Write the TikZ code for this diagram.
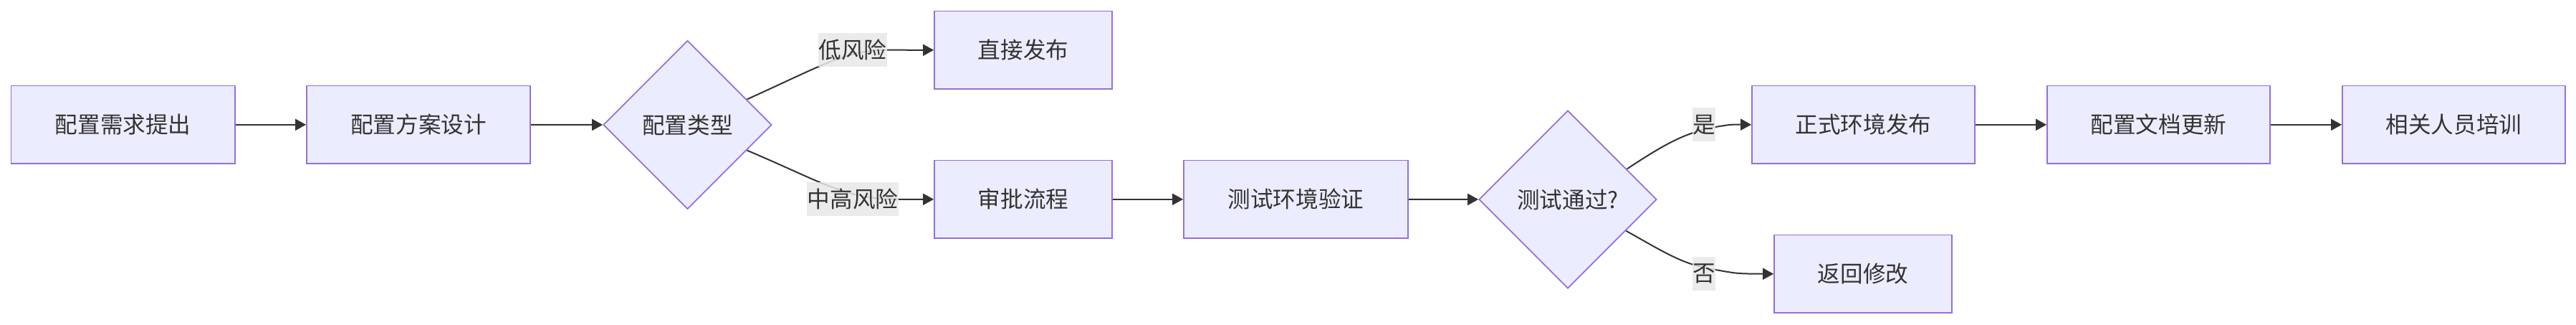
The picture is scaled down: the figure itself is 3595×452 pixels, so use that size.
\documentclass[tikz,border=0pt]{standalone}
\usepackage{fontspec}
\setmainfont{Noto Sans CJK SC}
\usetikzlibrary{shapes.geometric,arrows.meta,calc}
\definecolor{nodefill}{HTML}{ECECFF}
\definecolor{nodeline}{HTML}{9370DB}
\definecolor{edgecol}{HTML}{333333}
\definecolor{lblbg}{HTML}{E8E8E8}
\pgfdeclarelayer{background}
\pgfsetlayers{background,main}
\begin{document}
\begin{tikzpicture}[x=0.5pt,y=-0.5pt,
  every node/.style={font=\fontsize{15.8pt}{19pt}\selectfont, text=edgecol},
  box/.style={rectangle, draw=nodeline, fill=nodefill, line width=0.9pt, minimum height=54.3pt, inner sep=0pt},
  decision/.style={diamond, aspect=1, draw=nodeline, fill=nodefill, line width=0.9pt, inner sep=0pt},
  edge/.style={draw=edgecol, line width=1pt, -{Triangle[length=7.5pt,width=8pt]}},
  lbl/.style={rectangle, fill=lblbg, fill opacity=0.85, text opacity=1, inner sep=0pt, minimum height=23.6pt}]
\useasboundingbox (0,0) rectangle (3595,452);
\node[box, minimum width=156.3pt] (a) at (171.7,173.8) {配置需求提出};
\node[box, minimum width=156pt] (b) at (584,173.8) {配置方案设计};
\node[decision, minimum width=117.5pt, minimum height=117.5pt] (c) at (959.5,174) {配置类型};
\node[box, minimum width=124pt] (d) at (1428,69.8) {直接发布};
\node[box, minimum width=124pt] (e) at (1428,277.8) {审批流程};
\node[box, minimum width=156.5pt] (f) at (1808.5,277.8) {测试环境验证};
\node[decision, minimum width=124pt, minimum height=124pt] (g) at (2188,278) {测试通过?};
\node[box, minimum width=155.5pt] (h) at (2600.5,173.8) {正式环境发布};
\node[box, minimum width=155.5pt] (i) at (3012.5,173.8) {配置文档更新};
\node[box, minimum width=155.5pt] (j) at (3424.5,173.8) {相关人员培训};
\node[box, minimum width=124pt] (k) at (2600,381.8) {返回修改};

\node[lbl, minimum width=48pt] (l1) at (1190,69.7) {低风险};
\node[lbl, minimum width=64pt] (l2) at (1190,277.8) {中高风险};
\node[lbl, minimum width=16pt] (l3) at (2378,173.7) {是};
\node[lbl, minimum width=16pt] (l4) at (2378,381.7) {否};

\coordinate (c1) at ($(c.north)!0.7!(c.east)$);
\coordinate (c2) at ($(c.east)!0.3!(c.south)$);
\coordinate (g1) at ($(g.north)!0.66!(g.east)$);
\coordinate (g2) at ($(g.east)!0.35!(g.south)$);

\begin{pgfonlayer}{background}
\draw[edge] (a) -- (b);
\draw[edge] (b) -- (c);
\draw[edge] (c1) .. controls (1150,90) and (1180,70) .. (l1.east) -- (d.west);
\draw[edge] (c2) .. controls (1150,255) and (1180,278) .. (l2.east) -- (e.west);
\draw[edge] (e) -- (f);
\draw[edge] (f) -- (g);
\draw[edge] (g1) .. controls (2320,203) and (2350,185) .. (2394,177) .. controls (2415,173.5) .. (h.west);
\draw[edge] (g2) .. controls (2320,350) and (2350,370) .. (2394,376) .. controls (2425,381.5) .. (k.west);
\draw[edge] (h) -- (i);
\draw[edge] (i) -- (j);
\end{pgfonlayer}
\end{tikzpicture}
\end{document}
